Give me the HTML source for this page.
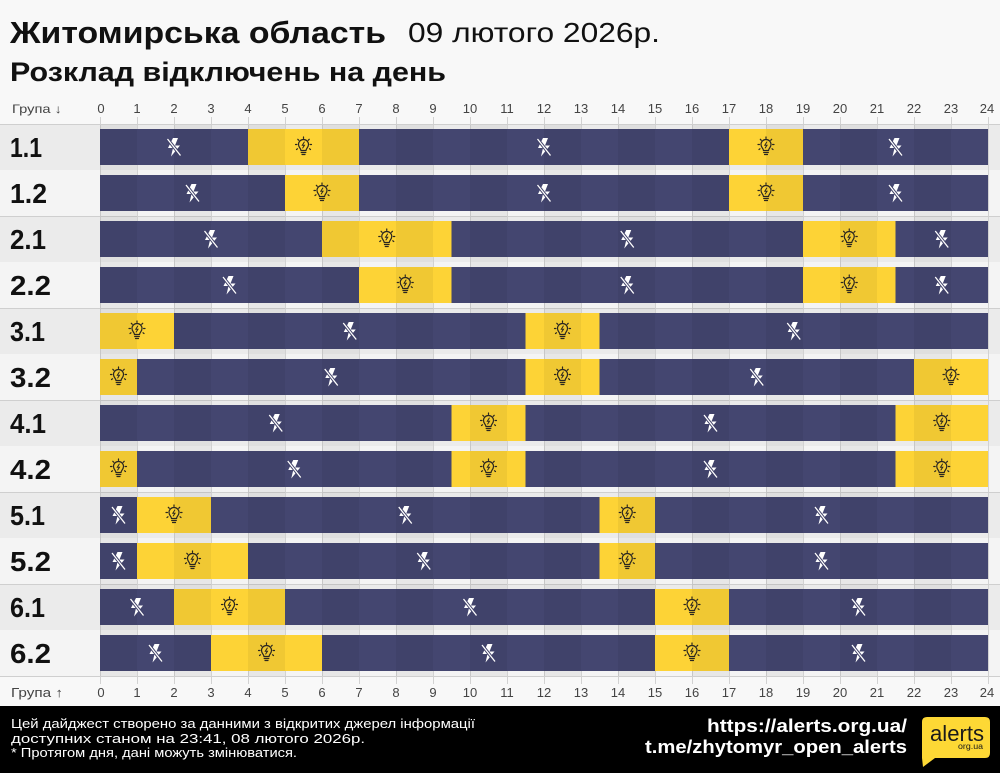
<!DOCTYPE html>
<html><head><meta charset="utf-8"><style>
html,body{margin:0;padding:0;background:#f8f8f8;}
svg{display:block;font-family:"Liberation Sans","Noto Sans CJK JP",sans-serif;}
</style></head><body>
<svg width="1000" height="773" viewBox="0 0 1000 773" xmlns="http://www.w3.org/2000/svg">
<defs>
<g id="off">
<path d="M-1,-9 L-6,1 L-1,1 L-3,9.5 L6,-1.5 L1,-1.5 L4,-9 Z" fill="#fff"/>
<line x1="-6.5" y1="-8" x2="6.5" y2="8.5" stroke="#404169" stroke-width="3.2"/>
<line x1="-6.5" y1="-8" x2="6.5" y2="8.5" stroke="#fff" stroke-width="1.3"/>
</g>
<g id="on" fill="none" stroke="#2a2620" stroke-width="1.2" stroke-linecap="round">
<path d="M-2.5,3.5 C-2.5,1.5 -5,0.5 -5,-2.5 A5,5 0 1 1 5,-2.5 C5,0.5 2.5,1.5 2.5,3.5 Z"/>
<line x1="-2.3" y1="5.5" x2="2.3" y2="5.5"/>
<line x1="-1.5" y1="7.5" x2="1.5" y2="7.5"/>
<path d="M0.8,-5 L-1.2,-1.8 L1,-1.8 L-0.8,1" stroke-width="1"/>
<line x1="0" y1="-10" x2="0" y2="-8.6"/>
<line x1="-5.7" y1="-7.7" x2="-4.7" y2="-6.7"/>
<line x1="5.7" y1="-7.7" x2="4.7" y2="-6.7"/>
<line x1="-8" y1="-2.5" x2="-6.6" y2="-2.5"/>
<line x1="8" y1="-2.5" x2="6.6" y2="-2.5"/>
<line x1="-7" y1="2.5" x2="-6" y2="1.8"/>
<line x1="7" y1="2.5" x2="6" y2="1.8"/>
</g>
</defs>

<rect x="0" y="0" width="1000" height="773" fill="#f8f8f8"/>

<!-- Title -->
<text x="10" y="43" font-size="31" font-weight="bold" fill="#111" textLength="376" lengthAdjust="spacingAndGlyphs">Житомирська область</text>
<text x="408" y="42" font-size="28" fill="#111" textLength="252" lengthAdjust="spacingAndGlyphs">09 лютого 2026р.</text>
<text x="10" y="81" font-size="27" font-weight="bold" fill="#111" textLength="436" lengthAdjust="spacingAndGlyphs">Розклад відключень на день</text>

<!-- row bands -->
<g>
<rect x="0" y="124" width="1000" height="46" fill="#ebebeb"/>
<rect x="0" y="170" width="1000" height="46" fill="#f4f4f4"/>
<rect x="0" y="216" width="1000" height="46" fill="#ebebeb"/>
<rect x="0" y="262" width="1000" height="46" fill="#f4f4f4"/>
<rect x="0" y="308" width="1000" height="46" fill="#ebebeb"/>
<rect x="0" y="354" width="1000" height="46" fill="#f4f4f4"/>
<rect x="0" y="400" width="1000" height="46" fill="#ebebeb"/>
<rect x="0" y="446" width="1000" height="46" fill="#f4f4f4"/>
<rect x="0" y="492" width="1000" height="46" fill="#ebebeb"/>
<rect x="0" y="538" width="1000" height="46" fill="#f4f4f4"/>
<rect x="0" y="584" width="1000" height="46" fill="#ebebeb"/>
<rect x="0" y="630" width="1000" height="46" fill="#f4f4f4"/>
</g>

<!-- vertical grid -->
<g stroke="#d2d2d2" stroke-width="1">
<line x1="100.5" y1="117" x2="100.5" y2="684"/>
<line x1="137.5" y1="117" x2="137.5" y2="684"/>
<line x1="174.5" y1="117" x2="174.5" y2="684"/>
<line x1="211.5" y1="117" x2="211.5" y2="684"/>
<line x1="248.5" y1="117" x2="248.5" y2="684"/>
<line x1="285.5" y1="117" x2="285.5" y2="684"/>
<line x1="322.5" y1="117" x2="322.5" y2="684"/>
<line x1="359.5" y1="117" x2="359.5" y2="684"/>
<line x1="396.5" y1="117" x2="396.5" y2="684"/>
<line x1="433.5" y1="117" x2="433.5" y2="684"/>
<line x1="470.5" y1="117" x2="470.5" y2="684"/>
<line x1="507.5" y1="117" x2="507.5" y2="684"/>
<line x1="544.5" y1="117" x2="544.5" y2="684"/>
<line x1="581.5" y1="117" x2="581.5" y2="684"/>
<line x1="618.5" y1="117" x2="618.5" y2="684"/>
<line x1="655.5" y1="117" x2="655.5" y2="684"/>
<line x1="692.5" y1="117" x2="692.5" y2="684"/>
<line x1="729.5" y1="117" x2="729.5" y2="684"/>
<line x1="766.5" y1="117" x2="766.5" y2="684"/>
<line x1="803.5" y1="117" x2="803.5" y2="684"/>
<line x1="840.5" y1="117" x2="840.5" y2="684"/>
<line x1="877.5" y1="117" x2="877.5" y2="684"/>
<line x1="914.5" y1="117" x2="914.5" y2="684"/>
<line x1="951.5" y1="117" x2="951.5" y2="684"/>
<line x1="988.5" y1="117" x2="988.5" y2="684"/>
</g>

<!-- horizontal group separators -->
<g stroke="#cfcfcf" stroke-width="1">
<line x1="0" y1="124.5" x2="1000" y2="124.5"/>
<line x1="0" y1="216.5" x2="1000" y2="216.5"/>
<line x1="0" y1="308.5" x2="1000" y2="308.5"/>
<line x1="0" y1="400.5" x2="1000" y2="400.5"/>
<line x1="0" y1="492.5" x2="1000" y2="492.5"/>
<line x1="0" y1="584.5" x2="1000" y2="584.5"/>
<line x1="0" y1="676.5" x2="1000" y2="676.5"/>
</g>

<!-- bars: navy base -->
<g fill="#444670">
<rect x="100" y="129" width="888" height="36"/>
<rect x="100" y="175" width="888" height="36"/>
<rect x="100" y="221" width="888" height="36"/>
<rect x="100" y="267" width="888" height="36"/>
<rect x="100" y="313" width="888" height="36"/>
<rect x="100" y="359" width="888" height="36"/>
<rect x="100" y="405" width="888" height="36"/>
<rect x="100" y="451" width="888" height="36"/>
<rect x="100" y="497" width="888" height="36"/>
<rect x="100" y="543" width="888" height="36"/>
<rect x="100" y="589" width="888" height="36"/>
<rect x="100" y="635" width="888" height="36"/>
</g>

<!-- yellow segments -->
<g fill="#fdd336">
<rect x="248" y="129" width="111" height="36"/>
<rect x="729" y="129" width="74" height="36"/>
<rect x="285" y="175" width="74" height="36"/>
<rect x="729" y="175" width="74" height="36"/>
<rect x="322" y="221" width="129.5" height="36"/>
<rect x="803" y="221" width="92.5" height="36"/>
<rect x="359" y="267" width="92.5" height="36"/>
<rect x="803" y="267" width="92.5" height="36"/>
<rect x="100" y="313" width="74" height="36"/>
<rect x="525.5" y="313" width="74" height="36"/>
<rect x="100" y="359" width="37" height="36"/>
<rect x="525.5" y="359" width="74" height="36"/>
<rect x="914" y="359" width="74" height="36"/>
<rect x="451.5" y="405" width="74" height="36"/>
<rect x="895.5" y="405" width="92.5" height="36"/>
<rect x="100" y="451" width="37" height="36"/>
<rect x="451.5" y="451" width="74" height="36"/>
<rect x="895.5" y="451" width="92.5" height="36"/>
<rect x="137" y="497" width="74" height="36"/>
<rect x="599.5" y="497" width="55.5" height="36"/>
<rect x="137" y="543" width="111" height="36"/>
<rect x="599.5" y="543" width="55.5" height="36"/>
<rect x="174" y="589" width="111" height="36"/>
<rect x="655" y="589" width="74" height="36"/>
<rect x="211" y="635" width="111" height="36"/>
<rect x="655" y="635" width="74" height="36"/>
</g>

<!-- even-hour column shading -->
<g fill="#000" fill-opacity="0.05">
<rect x="100" y="125" width="37" height="551"/>
<rect x="174" y="125" width="37" height="551"/>
<rect x="248" y="125" width="37" height="551"/>
<rect x="322" y="125" width="37" height="551"/>
<rect x="396" y="125" width="37" height="551"/>
<rect x="470" y="125" width="37" height="551"/>
<rect x="544" y="125" width="37" height="551"/>
<rect x="618" y="125" width="37" height="551"/>
<rect x="692" y="125" width="37" height="551"/>
<rect x="766" y="125" width="37" height="551"/>
<rect x="840" y="125" width="37" height="551"/>
<rect x="914" y="125" width="37" height="551"/>
</g>

<!-- off icons -->
<use href="#off" x="174" y="147"/>
<use href="#off" x="544" y="147"/>
<use href="#off" x="895.5" y="147"/>
<use href="#off" x="192.5" y="193"/>
<use href="#off" x="544" y="193"/>
<use href="#off" x="895.5" y="193"/>
<use href="#off" x="211" y="239"/>
<use href="#off" x="627.25" y="239"/>
<use href="#off" x="941.75" y="239"/>
<use href="#off" x="229.5" y="285"/>
<use href="#off" x="627.25" y="285"/>
<use href="#off" x="941.75" y="285"/>
<use href="#off" x="349.75" y="331"/>
<use href="#off" x="793.75" y="331"/>
<use href="#off" x="331.25" y="377"/>
<use href="#off" x="756.75" y="377"/>
<use href="#off" x="275.75" y="423"/>
<use href="#off" x="710.5" y="423"/>
<use href="#off" x="294.25" y="469"/>
<use href="#off" x="710.5" y="469"/>
<use href="#off" x="118.5" y="515"/>
<use href="#off" x="405.25" y="515"/>
<use href="#off" x="821.5" y="515"/>
<use href="#off" x="118.5" y="561"/>
<use href="#off" x="423.75" y="561"/>
<use href="#off" x="821.5" y="561"/>
<use href="#off" x="137" y="607"/>
<use href="#off" x="470" y="607"/>
<use href="#off" x="858.5" y="607"/>
<use href="#off" x="155.5" y="653"/>
<use href="#off" x="488.5" y="653"/>
<use href="#off" x="858.5" y="653"/>

<!-- on icons -->
<use href="#on" x="303.5" y="147"/>
<use href="#on" x="766" y="147"/>
<use href="#on" x="322" y="193"/>
<use href="#on" x="766" y="193"/>
<use href="#on" x="386.75" y="239"/>
<use href="#on" x="849.25" y="239"/>
<use href="#on" x="405.25" y="285"/>
<use href="#on" x="849.25" y="285"/>
<use href="#on" x="137" y="331"/>
<use href="#on" x="562.5" y="331"/>
<use href="#on" x="118.5" y="377"/>
<use href="#on" x="562.5" y="377"/>
<use href="#on" x="951" y="377"/>
<use href="#on" x="488.5" y="423"/>
<use href="#on" x="941.75" y="423"/>
<use href="#on" x="118.5" y="469"/>
<use href="#on" x="488.5" y="469"/>
<use href="#on" x="941.75" y="469"/>
<use href="#on" x="174" y="515"/>
<use href="#on" x="627.25" y="515"/>
<use href="#on" x="192.5" y="561"/>
<use href="#on" x="627.25" y="561"/>
<use href="#on" x="229.5" y="607"/>
<use href="#on" x="692" y="607"/>
<use href="#on" x="266.5" y="653"/>
<use href="#on" x="692" y="653"/>

<!-- row labels -->
<g font-size="28" font-weight="bold" fill="#111">
<text x="10" y="157" textLength="32" lengthAdjust="spacingAndGlyphs">1.1</text>
<text x="10" y="203" textLength="37" lengthAdjust="spacingAndGlyphs">1.2</text>
<text x="10" y="249" textLength="36" lengthAdjust="spacingAndGlyphs">2.1</text>
<text x="10" y="295" textLength="41" lengthAdjust="spacingAndGlyphs">2.2</text>
<text x="10" y="341" textLength="35" lengthAdjust="spacingAndGlyphs">3.1</text>
<text x="10" y="387" textLength="41" lengthAdjust="spacingAndGlyphs">3.2</text>
<text x="10" y="433" textLength="36" lengthAdjust="spacingAndGlyphs">4.1</text>
<text x="10" y="479" textLength="41" lengthAdjust="spacingAndGlyphs">4.2</text>
<text x="10" y="525" textLength="35" lengthAdjust="spacingAndGlyphs">5.1</text>
<text x="10" y="571" textLength="41" lengthAdjust="spacingAndGlyphs">5.2</text>
<text x="10" y="617" textLength="35" lengthAdjust="spacingAndGlyphs">6.1</text>
<text x="10" y="663" textLength="41" lengthAdjust="spacingAndGlyphs">6.2</text>
</g>

<!-- top axis -->
<g font-size="13" fill="#444" text-anchor="middle">
<text x="12" y="113" text-anchor="start" font-size="12" textLength="50" lengthAdjust="spacingAndGlyphs">Група ↓</text>
<text x="101" y="113">0</text>
<text x="137" y="113">1</text>
<text x="174" y="113">2</text>
<text x="211" y="113">3</text>
<text x="248" y="113">4</text>
<text x="285" y="113">5</text>
<text x="322" y="113">6</text>
<text x="359" y="113">7</text>
<text x="396" y="113">8</text>
<text x="433" y="113">9</text>
<text x="470" y="113">10</text>
<text x="507" y="113">11</text>
<text x="544" y="113">12</text>
<text x="581" y="113">13</text>
<text x="618" y="113">14</text>
<text x="655" y="113">15</text>
<text x="692" y="113">16</text>
<text x="729" y="113">17</text>
<text x="766" y="113">18</text>
<text x="803" y="113">19</text>
<text x="840" y="113">20</text>
<text x="877" y="113">21</text>
<text x="914" y="113">22</text>
<text x="951" y="113">23</text>
<text x="987" y="113">24</text>
</g>

<!-- bottom axis -->
<g font-size="13" fill="#444" text-anchor="middle">
<text x="11" y="697" text-anchor="start" font-size="13" textLength="52" lengthAdjust="spacingAndGlyphs">Група ↑</text>
<text x="101" y="697">0</text>
<text x="137" y="697">1</text>
<text x="174" y="697">2</text>
<text x="211" y="697">3</text>
<text x="248" y="697">4</text>
<text x="285" y="697">5</text>
<text x="322" y="697">6</text>
<text x="359" y="697">7</text>
<text x="396" y="697">8</text>
<text x="433" y="697">9</text>
<text x="470" y="697">10</text>
<text x="507" y="697">11</text>
<text x="544" y="697">12</text>
<text x="581" y="697">13</text>
<text x="618" y="697">14</text>
<text x="655" y="697">15</text>
<text x="692" y="697">16</text>
<text x="729" y="697">17</text>
<text x="766" y="697">18</text>
<text x="803" y="697">19</text>
<text x="840" y="697">20</text>
<text x="877" y="697">21</text>
<text x="914" y="697">22</text>
<text x="951" y="697">23</text>
<text x="987" y="697">24</text>
</g>

<!-- footer -->
<rect x="0" y="706" width="1000" height="67" fill="#000"/>
<g font-size="13" fill="#fff">
<text x="11" y="728" textLength="464" lengthAdjust="spacingAndGlyphs">Цей дайджест створено за данними з відкритих джерел інформації</text>
<text x="11" y="743" textLength="354" lengthAdjust="spacingAndGlyphs">доступних станом на 23:41, 08 лютого 2026р.</text>
<text x="11" y="757" textLength="286" lengthAdjust="spacingAndGlyphs">* Протягом дня, дані можуть змінюватися.</text>
</g>
<g font-size="18" font-weight="bold" fill="#fff">
<text x="707" y="732" textLength="200" lengthAdjust="spacingAndGlyphs">https://alerts.org.ua/</text>
<text x="645" y="753" textLength="262" lengthAdjust="spacingAndGlyphs">t.me/zhytomyr_open_alerts</text>
</g>
<!-- logo -->
<path d="M927,717 H985 Q990,717 990,722 V753 Q990,758 985,758 H935 L923,767 L922,758 Q922,758 922,753 V722 Q922,717 927,717 Z" fill="#fdd835"/>
<text x="930" y="741" font-size="22" fill="#1a1a1a" textLength="54" lengthAdjust="spacingAndGlyphs">alerts</text>
<text x="958" y="749" font-size="8" fill="#1a1a1a" textLength="25" lengthAdjust="spacingAndGlyphs">org.ua</text>
</svg>
</body></html>
